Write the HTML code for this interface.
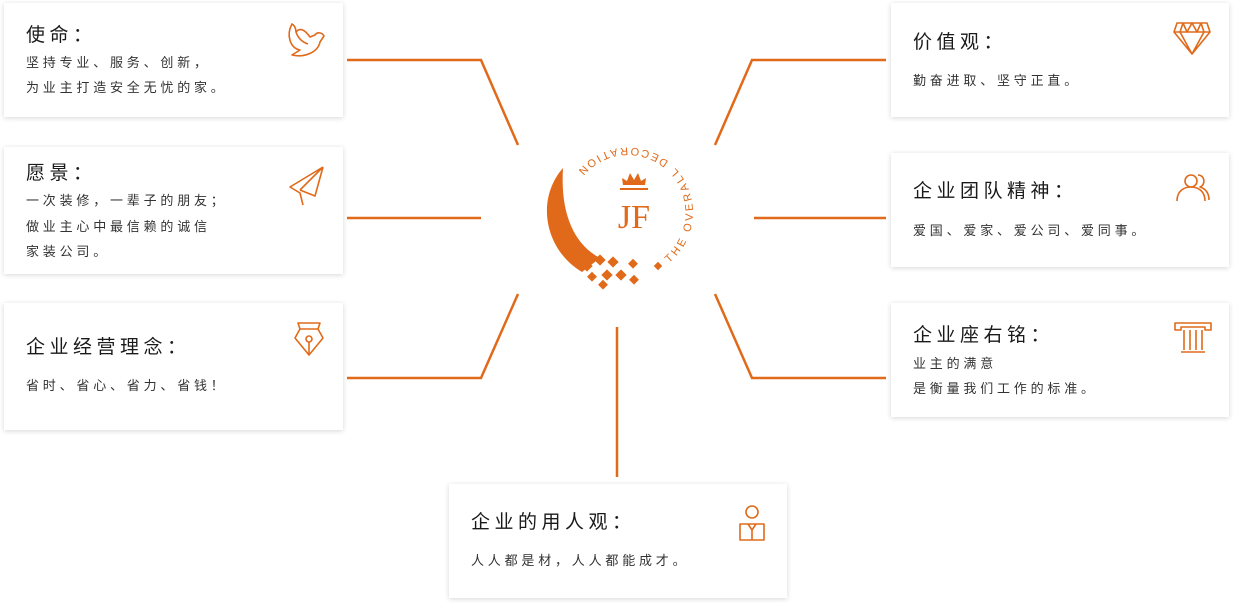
<!DOCTYPE html>
<html><head><meta charset="utf-8"><style>
body{margin:0;width:1234px;height:604px;background:#fff;position:relative;overflow:hidden;font-family:"Liberation Sans","Noto Sans CJK SC",sans-serif;color:#222}
.c{position:absolute;background:#fff;box-shadow:0 1px 5px rgba(0,0,0,.16)}
.t{position:absolute;font-size:19px;letter-spacing:4.5px;line-height:24px;white-space:nowrap;color:#1a1a1a}
.b{position:absolute;font-size:13px;letter-spacing:3.8px;line-height:25px;white-space:nowrap;color:#333}
</style></head><body>
<svg width="1234" height="604" style="position:absolute;left:0;top:0">
<g stroke="#e06a1a" stroke-width="2.5" fill="none">
<polyline points="347,60 481,60 518,145"/>
<line x1="347" y1="218" x2="481" y2="218"/>
<polyline points="347,378 481,378 518,294"/>
<polyline points="886,60 752,60 715,145"/>
<line x1="754" y1="218" x2="886" y2="218"/>
<polyline points="886,378 752,378 715,294"/>
<line x1="617" y1="327" x2="617" y2="477"/>
</g>
<defs><path id="arc" d="M669,263 A65,65 0 1,0 563,212 A65,65 0 0,0 628,277"/></defs>
<text font-family="Liberation Sans,sans-serif" font-size="11" fill="#e06a1a" letter-spacing="3.1"><textPath href="#arc">THE OVERALL DECORATION</textPath></text>
<path d="M563,168 C535,200 545,250 582,272 L600,258 C575,245 560,215 563,168Z" fill="#e06a1a"/>
<g fill="#e06a1a">
<rect x="583" y="262" width="8" height="8" transform="rotate(45 587 266)"/>
<rect x="596" y="256" width="8" height="8" transform="rotate(45 600 260)"/>
<rect x="609" y="258" width="8" height="8" transform="rotate(45 613 262)"/>
<rect x="630" y="260" width="7" height="7" transform="rotate(45 633 263)"/>
<rect x="655" y="263" width="6" height="6" transform="rotate(45 658 266)"/>
<rect x="589" y="273" width="7" height="7" transform="rotate(45 592 276)"/>
<rect x="603" y="271" width="8" height="8" transform="rotate(45 607 275)"/>
<rect x="617" y="271" width="8" height="8" transform="rotate(45 621 275)"/>
<rect x="600" y="281" width="7" height="7" transform="rotate(45 603 284)"/>
<rect x="631" y="276" width="7" height="7" transform="rotate(45 634 279)"/>
<path d="M623,185 L622,178 L627,181 L630,173 L634,180 L638,173 L641,181 L646,178 L645,185Z"/>
<rect x="620" y="188" width="28" height="2"/>
</g>
<text x="634" y="228" font-family="Liberation Serif,serif" font-size="34" fill="#e06a1a" text-anchor="middle">JF</text>
</svg>

<div class="c" style="left:4px;top:3px;width:339px;height:114px"></div>
<div class="t" style="left:26px;top:24px">使命：</div>
<div class="b" style="left:26px;top:50px">坚持专业、服务、创新，</div>
<div class="b" style="left:26px;top:75px">为业主打造安全无忧的家。</div>

<div class="c" style="left:4px;top:147px;width:339px;height:127px"></div>
<div class="t" style="left:26px;top:162px">愿景：</div>
<div class="b" style="left:26px;top:188px">一次装修，一辈子的朋友；</div>
<div class="b" style="left:26px;top:214px">做业主心中最信赖的诚信</div>
<div class="b" style="left:26px;top:239px">家装公司。</div>

<div class="c" style="left:4px;top:303px;width:339px;height:127px"></div>
<div class="t" style="left:26px;top:336px">企业经营理念：</div>
<div class="b" style="left:26px;top:373px">省时、省心、省力、省钱！</div>

<div class="c" style="left:891px;top:3px;width:338px;height:114px"></div>
<div class="t" style="left:913px;top:31px">价值观：</div>
<div class="b" style="left:913px;top:68px">勤奋进取、坚守正直。</div>

<div class="c" style="left:891px;top:153px;width:338px;height:114px"></div>
<div class="t" style="left:913px;top:180px">企业团队精神：</div>
<div class="b" style="left:913px;top:218px">爱国、爱家、爱公司、爱同事。</div>

<div class="c" style="left:891px;top:303px;width:338px;height:114px"></div>
<div class="t" style="left:913px;top:324px">企业座右铭：</div>
<div class="b" style="left:913px;top:351px">业主的满意</div>
<div class="b" style="left:913px;top:376px">是衡量我们工作的标准。</div>

<div class="c" style="left:449px;top:484px;width:338px;height:114px"></div>
<div class="t" style="left:471px;top:511px">企业的用人观：</div>
<div class="b" style="left:471px;top:548px">人人都是材，人人都能成才。</div>

<svg width="1234" height="604" style="position:absolute;left:0;top:0" fill="none" stroke="#e06a1a" stroke-width="1.6" stroke-linejoin="round">
<path d="M292,24 C286,35 290,48 300,50 L292,55 C305,58 318,52 320,42 L324,36 C322,32 317,32 315,35 L310,37 C305,30 300,27 296,32 C296,28 294,25 292,24Z"/>
<path d="M296,32 C298,38 302,42 308,44"/>
<path d="M323,167 L290,187 L300,193 L303,205 M323,167 L315,196 L300,190 M323,167 L300,190"/>
<path d="M298,323 L320,323 L318,329 L323,338 L309,355 L295,338 L300,329Z M300,329 L318,329"/>
<circle cx="309" cy="339" r="3"/><path d="M309,342 L309,354"/>
<path d="M1177,23 L1207,23 L1210,32 L1192,54 L1174,32Z M1174,32 L1210,32 M1183,23 L1180,32 L1192,54 L1204,32 L1201,23 M1183,23 L1187,32 L1192,23 L1197,32 L1201,23"/>
<circle cx="1191" cy="181" r="6"/>
<path d="M1177,201 C1177,190 1185,187 1191,187 C1198,187 1205,191 1205,201"/>
<path d="M1198,175 C1205,175 1206,185 1200,187 C1206,189 1209,193 1209,200"/>
<path d="M1175,323 L1211,323 L1211,330 L1205,330 L1205,327 L1181,327 L1181,330 L1175,330Z M1184,330 L1184,350 M1190,330 L1190,350 M1196,330 L1196,350 M1202,330 L1202,350 M1181,352 L1205,352"/>
<circle cx="752" cy="512" r="6"/>
<path d="M740,540 L740,524 L764,524 L764,540Z M748,524 L752,530 L756,524 M752,530 L752,540"/>
</svg>
</body></html>
